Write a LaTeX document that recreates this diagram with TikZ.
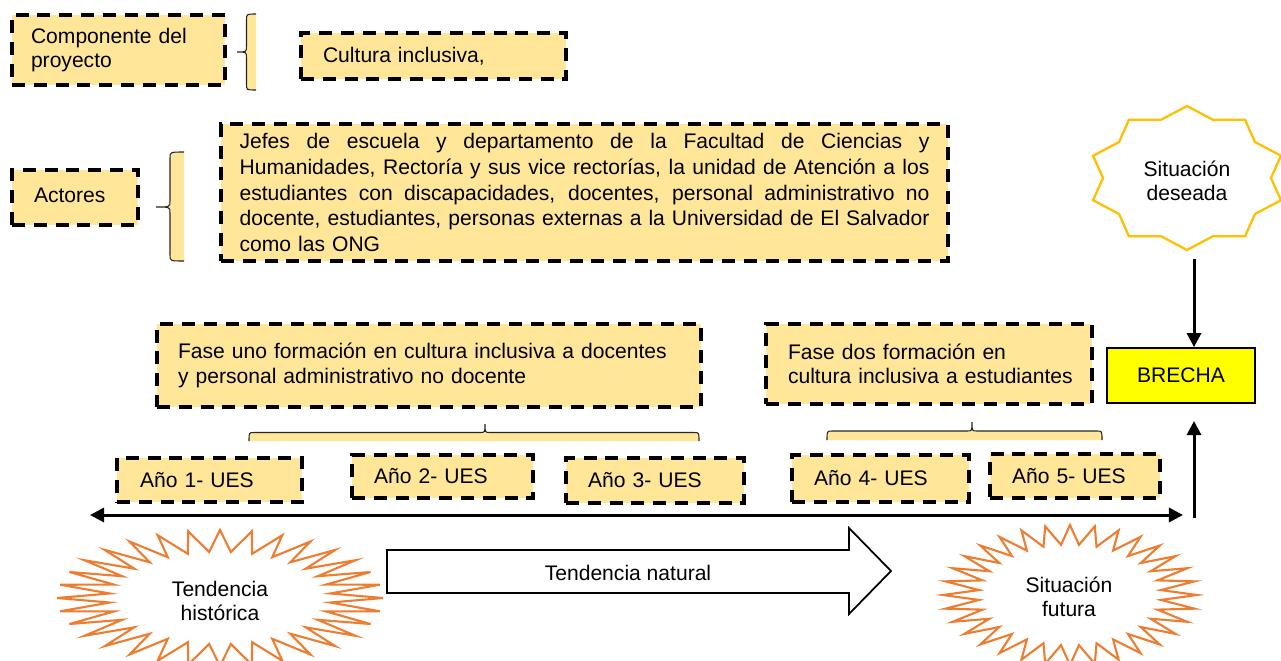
\documentclass[tikz,border=0pt]{standalone}
\usepackage{fontspec}
\setmainfont{Liberation Sans}
\usetikzlibrary{arrows.meta}
\definecolor{boxfill}{HTML}{FFE699}
\definecolor{stargold}{HTML}{FFC000}
\definecolor{burstorange}{HTML}{ED7D31}
\definecolor{brechafill}{HTML}{FFFF00}
\newcommand\jline[1]{\leavevmode\hbox to 13.8cm{\spaceskip=0.278em plus 1fil\relax #1}}
\newcommand\mybraceH[5]{% x1, x2, xtip, ytip, yend
  \fill[boxfill] (#1,#5) .. controls (#1,{(#4+#5)/2}) .. ({#1+5},{(#4+#5)/2}) -- ({#3-5},{(#4+#5)/2}) .. controls (#3,{(#4+#5)/2}) .. (#3,#4) .. controls (#3,{(#4+#5)/2}) .. ({#3+5},{(#4+#5)/2}) -- ({#2-5},{(#4+#5)/2}) .. controls (#2,{(#4+#5)/2}) .. (#2,#5) -- cycle;
  \draw[bracestroke] (#1,#5) .. controls (#1,{(#4+#5)/2}) .. ({#1+5},{(#4+#5)/2}) -- ({#3-5},{(#4+#5)/2}) .. controls (#3,{(#4+#5)/2}) .. (#3,#4) .. controls (#3,{(#4+#5)/2}) .. ({#3+5},{(#4+#5)/2}) -- ({#2-5},{(#4+#5)/2}) .. controls (#2,{(#4+#5)/2}) .. (#2,#5);
}
\newcommand\mybraceV[5]{% y1, y2, ytip, xtip, xend
  \fill[boxfill] (#5,#1) .. controls ({(#4+#5)/2},#1) .. ({(#4+#5)/2},{#1+6}) -- ({(#4+#5)/2},{#3-6}) .. controls ({(#4+#5)/2},#3) .. (#4,#3) .. controls ({(#4+#5)/2},#3) .. ({(#4+#5)/2},{#3+6}) -- ({(#4+#5)/2},{#2-6}) .. controls ({(#4+#5)/2},#2) .. (#5,#2) -- cycle;
  \draw[bracestroke] (#5,#1) .. controls ({(#4+#5)/2},#1) .. ({(#4+#5)/2},{#1+6}) -- ({(#4+#5)/2},{#3-6}) .. controls ({(#4+#5)/2},#3) .. (#4,#3) .. controls ({(#4+#5)/2},#3) .. ({(#4+#5)/2},{#3+6}) -- ({(#4+#5)/2},{#2-6}) .. controls ({(#4+#5)/2},#2) .. (#5,#2);
}
\begin{document}
\begin{tikzpicture}[x=0.02cm,y=-0.02cm,
  font=\fontsize{12}{13.9}\selectfont,
  ybox/.style={draw=black, fill=boxfill, line width=2pt, dash pattern=on 7.4pt off 5pt, rectangle, align=left, inner ysep=0pt},
  bracestroke/.style={draw=black!85, line width=0.6pt},
  arr/.style={line width=1.7pt, -{Triangle[length=8pt,width=8pt]}},
  burst/.style={draw=burstorange, line width=1.2pt, fill=white, line join=miter},
  star/.style={draw=stargold, line width=1.3pt, fill=white},
]
\useasboundingbox (0,0) rectangle (1281,660);

% top row
\node[ybox, minimum width=4.26cm, minimum height=1.4cm, text width=3.5cm, inner xsep=0.38cm] (comp) at (118.5,50) {Componente del\\proyecto};
\mybraceV{14}{90}{52}{237}{256}
\node[ybox, minimum width=5.3cm, minimum height=0.92cm, text width=4.42cm, inner xsep=0.44cm] (cult) at (433.5,56) {Cultura inclusiva,};

% actors
\node[ybox, minimum width=2.52cm, minimum height=1.1cm, text width=1.64cm, inner xsep=0.44cm, text depth=0.5ex] (act) at (75,197.5) {Actores};
\mybraceV{152}{261}{207}{156}{184}
\node[ybox, minimum width=14.54cm, minimum height=2.74cm, text width=13.8cm, inner xsep=0.37cm, font=\fontsize{12}{14.6}\selectfont] (actlist) at (584.5,192.5) {%
\jline{Jefes de escuela y departamento de la Facultad de Ciencias y}\\
\jline{Humanidades, Rectoría y sus vice rectorías, la unidad de Atención a los}\\
\jline{estudiantes con discapacidades, docentes, personal administrativo no}\\
\jline{docente, estudiantes, personas externas a la Universidad de El Salvador}\\
como las ONG};

% desired situation star
\draw[star] plot[samples=21, domain=0:20, variable=\t]
  ({1187 + 98.8*(0.85 + 0.15*(1+cos(\t*180))/2)*cos(90+\t*18)},
   {178 - 72*(0.85 + 0.15*(1+cos(\t*180))/2)*sin(90+\t*18)}) -- cycle;
\node[align=center] (deseada) at (1187,181) {Situación\\deseada};
\coordinate (desbot) at (1194,259);

% phases
\node[ybox, minimum width=10.88cm, minimum height=1.66cm, text width=10.04cm, inner xsep=0.42cm] (fase1) at (429,365.5) {\mbox{Fase uno formación en cultura inclusiva a docentes}\\\mbox{y personal administrativo no docente}};
\node[ybox, minimum width=6.52cm, minimum height=1.6cm, text width=5.64cm, inner xsep=0.44cm] (fase2) at (929,364) {\mbox{Fase dos formación en}\\\mbox{cultura inclusiva a estudiantes}};
\node[draw=black, line width=1pt, fill=brechafill, minimum width=2.96cm, minimum height=1.1cm] (brecha) at (1181,375.5) {BRECHA};

\draw[arr] (desbot) -- (desbot |- brecha.north);

% braces under phases
\mybraceH{249}{699}{485}{424}{441}
\mybraceH{827}{1102}{972}{422}{440}

% years
\node[ybox, minimum width=3.7cm, minimum height=0.88cm, text width=2.78cm, inner xsep=0.46cm] (a1) at (209.5,480) {Año 1- UES};
\node[ybox, minimum width=3.62cm, minimum height=0.86cm, text width=2.74cm, inner xsep=0.44cm] (a2) at (442.5,476.5) {Año 2- UES};
\node[ybox, minimum width=3.56cm, minimum height=0.9cm, text width=2.68cm, inner xsep=0.44cm] (a3) at (655,480.5) {Año 3- UES};
\node[ybox, minimum width=3.54cm, minimum height=0.94cm, text width=2.66cm, inner xsep=0.44cm] (a4) at (880.5,478.5) {Año 4- UES};
\node[ybox, minimum width=3.4cm, minimum height=0.88cm, text width=2.52cm, inner xsep=0.44cm] (a5) at (1075,476) {Año 5- UES};

% time axis
\coordinate (axL) at (90,515);
\coordinate (axR) at (1183,515);
\draw[line width=1.7pt, {Triangle[length=8pt,width=8pt]}-{Triangle[length=8pt,width=8pt]}] (axL) -- (axR);
\coordinate (upstart) at (1194,518);
\coordinate (uptip) at (1194,421);
\draw[arr] (upstart) -- (uptip);

% bursts
\draw[burst] plot[samples=65, domain=0:64, variable=\t]
  ({220 + 163*(0.68 + 0.32*(1+cos(\t*180))/2)*cos(\t*5.625)},
   {598 + 68*(0.68 + 0.32*(1+cos(\t*180))/2)*sin(\t*5.625)}) -- cycle;
\node[align=center] (hist) at (220,601) {Tendencia\\histórica};

\draw[burst] plot[samples=65, domain=0:64, variable=\t]
  ({1070 + 127*(0.72 + 0.28*(1+cos(\t*180))/2)*cos(\t*5.625)},
   {595 + 70*(0.72 + 0.28*(1+cos(\t*180))/2)*sin(\t*5.625)}) -- cycle;
\node[align=center] (fut) at (1069,597) {Situación\\futura};

% natural trend block arrow
\draw[line width=1pt, fill=white, line join=miter] (387,550) -- (849,550) -- (849,528) -- (891,571) -- (849,614) -- (849,593) -- (387,593) -- cycle;
\node (natural) at (628,573) {Tendencia natural};
\end{tikzpicture}
\end{document}
